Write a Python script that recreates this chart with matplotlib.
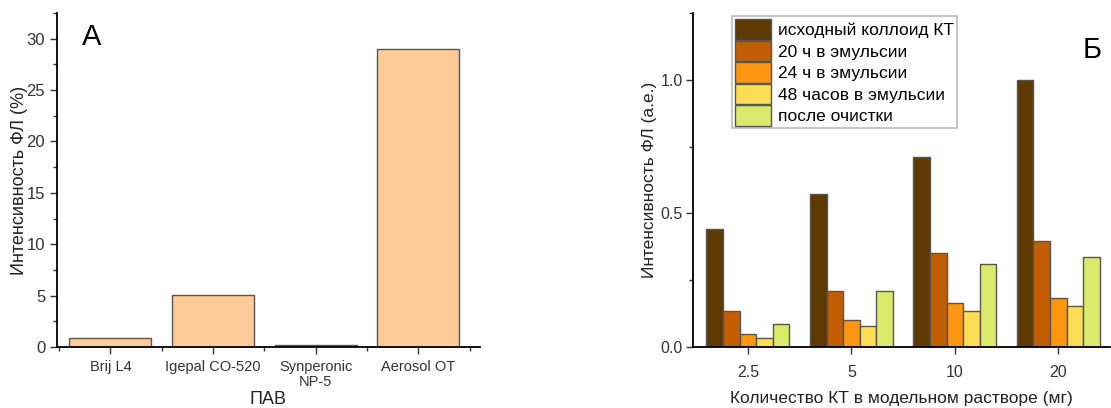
import numpy as np
import matplotlib
matplotlib.use("Agg")
import matplotlib.pyplot as plt
from matplotlib.ticker import MultipleLocator, FixedLocator

plt.rcParams['font.family'] = ['Liberation Sans', 'DejaVu Sans']

# panel A data
surfactants = ["Brij L4", "Igepal CO-520", "Synperonic\nNP-5", "Aerosol OT"]
intensity_pct = [0.9, 5.1, 0.15, 29.0]

# panel B data
amounts = ["2.5", "5", "10", "20"]
series_labels = ["исходный коллоид КТ", "20 ч в эмульсии", "24 ч в эмульсии",
                 "48 часов в эмульсии", "после очистки"]
initial = [0.44, 0.571, 0.71, 1.0]
h20 = [0.133, 0.211, 0.353, 0.395]
h24 = [0.05, 0.10, 0.163, 0.185]
h48 = [0.033, 0.079, 0.133, 0.154]
cleaned = [0.085, 0.209, 0.311, 0.335]
series = [initial, h20, h24, h48, cleaned]
colors = ["#5e3a00", "#c25e00", "#ff9612", "#ffdd55", "#dcea6c"]

fig = plt.figure(figsize=(11.11, 4.08), dpi=100)

# ---- panel A ----
ax1 = fig.add_axes([0.0513, 0.1495, 0.3807, 0.8186])
x = np.arange(len(surfactants))
ax1.bar(x, intensity_pct, width=0.8, color="#ffcc99", edgecolor="#555555", linewidth=1)
ax1.set_xlim(-0.52, 3.6)
ax1.set_ylim(0, 32.5)
ax1.set_xticks(x)
ax1.set_xticklabels(surfactants, fontsize=10.5, linespacing=1.15)
ax1.xaxis.set_minor_locator(FixedLocator(np.arange(-0.5, 4.0, 1.0)))
ax1.yaxis.set_major_locator(MultipleLocator(5))
ax1.yaxis.set_minor_locator(MultipleLocator(2.5))
ax1.tick_params(axis='y', which='major', labelsize=12)
ax1.tick_params(axis='both', which='major', length=5, width=1, colors="#333333")
ax1.tick_params(axis='both', which='minor', length=3, width=1, colors="#333333")
ax1.tick_params(axis='x', which='major', pad=4)
ax1.set_xlabel("ПАВ", fontsize=13, color="#222222", labelpad=1)
ax1.set_ylabel("Интенсивность ФЛ (%)", fontsize=13, color="#222222")
ax1.yaxis.set_label_coords(-0.068, 0.5)
for s in ["top", "right"]:
    ax1.spines[s].set_visible(False)
for s in ["left", "bottom"]:
    ax1.spines[s].set_linewidth(1.3)
ax1.text(0.06, 0.97, "A", transform=ax1.transAxes, fontsize=21, va="top", ha="left")

# ---- panel B ----
ax2 = fig.add_axes([0.6238, 0.1495, 0.3753, 0.8186])
xb = np.arange(len(amounts))
w = 0.16
for i, (vals, c, lab) in enumerate(zip(series, colors, series_labels)):
    ax2.bar(xb + (i - 2) * w, vals, width=w, color=c, edgecolor="#555555",
            linewidth=1, label=lab)
ax2.set_xlim(-0.53, 3.5)
ax2.set_ylim(0, 1.25)
ax2.set_xticks(xb)
ax2.set_xticklabels(amounts)
ax2.yaxis.set_major_locator(MultipleLocator(0.5))
ax2.yaxis.set_minor_locator(MultipleLocator(0.25))
ax2.tick_params(axis='both', which='major', labelsize=11.5, length=5, width=1, colors="#333333")
ax2.tick_params(axis='both', which='minor', length=3, width=1, colors="#333333")
ax2.tick_params(axis='x', which='major', pad=8)
ax2.tick_params(axis='y', which='major', pad=2.5)
ax2.set_xlabel("Количество КТ в модельном растворе (мг)", fontsize=12.5, color="#222222", labelpad=8)
ax2.set_ylabel("Интенсивность ФЛ (а.е.)", fontsize=12.5, color="#222222")
ax2.yaxis.set_label_coords(-0.086, 0.5)
for s in ["top", "right"]:
    ax2.spines[s].set_visible(False)
for s in ["left", "bottom"]:
    ax2.spines[s].set_linewidth(1.3)
leg = ax2.legend(loc="upper left", bbox_to_anchor=(0.085, 1.0), fontsize=12.5,
                 frameon=True, fancybox=False, edgecolor="#aaaaaa",
                 handlelength=2.1, handleheight=1.45, handletextpad=0.4,
                 labelspacing=0.05, borderpad=0.15, borderaxespad=0.2)
leg.get_frame().set_linewidth(1.2)
ax2.text(0.98, 0.93, "Б", transform=ax2.transAxes, fontsize=21, va="top", ha="right")

fig.savefig("out.png", dpi=100)
